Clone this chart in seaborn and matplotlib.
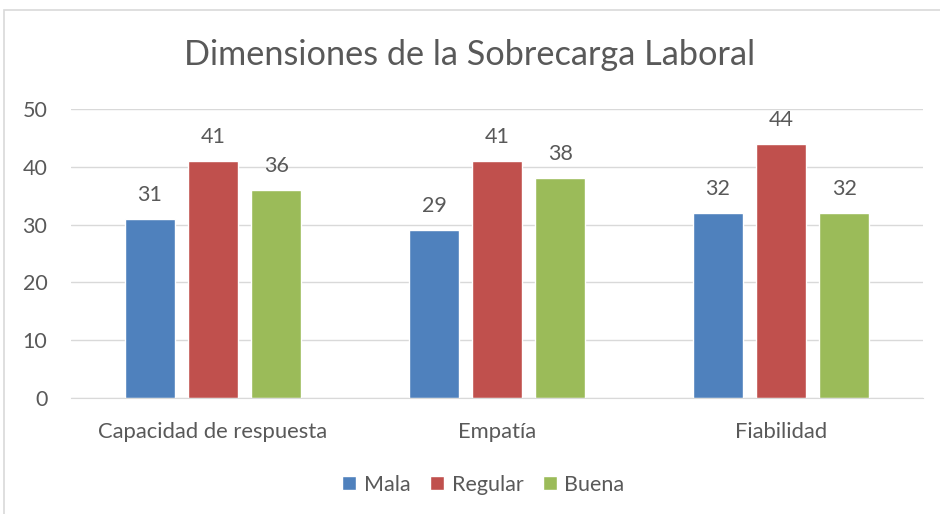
import pandas as pd
import matplotlib
matplotlib.use('Agg')
import matplotlib.pyplot as plt
import seaborn as sns
from matplotlib.patches import Rectangle

# datos
categorias = ['Capacidad de respuesta', 'Empatía', 'Fiabilidad']
niveles = ['Mala', 'Regular', 'Buena']
mala = [31, 29, 32]
regular = [41, 41, 44]
buena = [36, 38, 32]
colores = ['#4F81BD', '#C0504D', '#9BBB59']

df = pd.DataFrame({
    'dimension': categorias * 3,
    'nivel': [n for n in niveles for _ in categorias],
    'valor': mala + regular + buena,
})

sns.set_style('white')
plt.rcParams['font.family'] = ['Lato', 'DejaVu Sans']
gris = '#595959'

fig = plt.figure(figsize=(9.4, 5.14), dpi=100)
ax = fig.add_axes([71 / 940, 1 - 398 / 514, 852 / 940, 289 / 514])

sns.barplot(data=df, x='dimension', y='valor', hue='nivel', hue_order=niveles,
            palette=colores, width=0.666, gap=0.2, saturation=1, ax=ax, legend=True)

for cont in ax.containers:
    ax.bar_label(cont, padding=10, fontsize=15.5, color=gris)

ax.set_ylim(0, 50)
ax.set_yticks(range(0, 51, 10))
ax.yaxis.grid(True, color='#D9D9D9', linewidth=1)
ax.set_axisbelow(True)
for s in ['top', 'right', 'left']:
    ax.spines[s].set_visible(False)
ax.spines['bottom'].set_color('#D9D9D9')
ax.tick_params(axis='y', length=0, pad=17, labelsize=15.5, labelcolor=gris)
ax.tick_params(axis='x', length=0, pad=17, labelsize=15.8, labelcolor=gris)
ax.set_xlabel('')
ax.set_ylabel('')

leg = ax.legend(loc='center', bbox_to_anchor=(0.484, -0.3), ncol=3, frameon=False,
                fontsize=15.5, handlelength=0.65, handleheight=0.65, handletextpad=0.35,
                columnspacing=0.9)
for t in leg.get_texts():
    t.set_color(gris)

fig.text(0.5, 1 - 55 / 514, 'Dimensiones de la Sobrecarga Laboral',
         ha='center', va='center', fontsize=24.7, color=gris)

# borde del grafico
fig.patches.append(Rectangle((4 / 940, -0.05), 1.1, 1 - 10 / 514 + 0.05,
                             transform=fig.transFigure, fill=False,
                             edgecolor='#D9D9D9', linewidth=1.2))

fig.savefig('out.png', dpi=100)
